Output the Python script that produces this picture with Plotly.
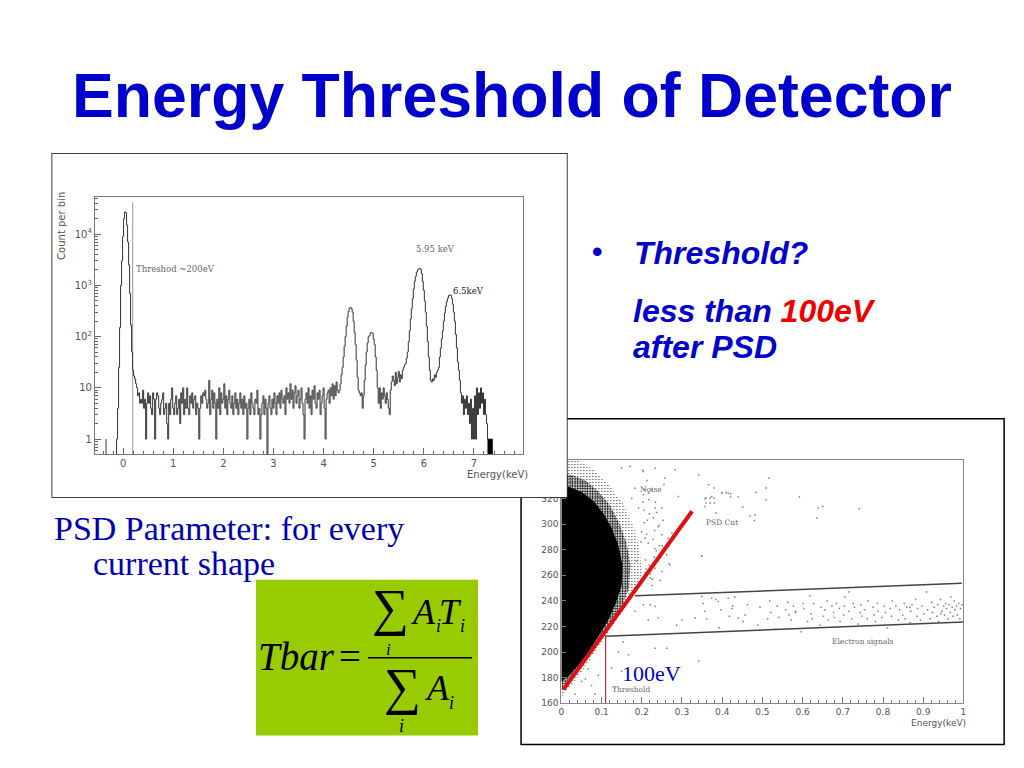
import plotly.graph_objects as go

W, H = 1024, 768

# ---------- left panel: spectrum (counts per 0.02 keV bin) ----------
BIN = 0.02
FLOOR = 0.4   # empty bin, falls below the axis
PEAK0_START = -0.16
PEAK0 = [FLOOR, FLOOR, 1, 4, 25, 150, 1000, 3000, 9000, 20000, 27000, 26000, 15000, 7000, 2500, 700,
         170, 50, 22, 17, 15, 12, 10]
NOISE_START = 0.30
NOISE = [7,8,5,6,5,9,4,6,1,5, 8,5,7,4,3,8,6,1,6,8, 7,4,3,5,6,8,3,4,5,2, 1,5,3,6,10,4,3,5,7,3,
         4,6,2,8,5,10,3,6,4,10, 4,3,7,5,8,4,6,7,3,5, 4,1,4,7,5,8,7,9,6,4, 5,14,3,6,9,4,8,5,1,6,
         4,10,3,8,5,6,12,4,7,3, 6,9,5,4,7,3,5,8,4,6, 3,5,8,4,6,3,7,4,5,1, 4,6,3,8,5,4,3,6,5,9,
         3,4,1,3,5,7,3,6,4,FLOOR, 5,7,4,3,6,4,8,5,3,7, 5,8,4,9,6,5,7,3,10,6, 8,5,12,6,9,4,8,11,5,7,
         9,4,6,10,5,3,1,6,8,5, 10,4,7,3,9,6,11,5,4,8, 6,9,3,5,7,10,4,1,6,8, 9,5,10,7,12,6,11,7,13,9]
PEAKS_START = 4.30
PEAKS = [8,9,12,18,25,40,65,100,160,240,310,360,370,350,300,200,120,70,35,16,9,8,7,8,4,7,14,28,50,75,
         100,105,120,120,115,90,70,40,22,10,5,10,4,8,6,10,7,5,8,6,4,3,9,13,17,14,11,20,12,16,
         21,13,18,15,22,25,28,30,38,50,80,130,220,350,550,850,1200,1500,1800,2000,2100,2150,2050,1700,1200,
         800,500,300,160,80,40,22,14,13,15,14,18,16,20,22,25,40,60,90,130,200,290,390,480,560,
         630,650,640,560,430,300,200,110,60,32,22,14,8]
TAIL_START = 6.76
TAIL = [5,7,3,6,4,7,3,5,2,6,1,4,1,7,1,10,3,8,4,10,5,8,3,6,3,2,1,1,1,1,1,FLOOR]
STRAY_X, STRAY_Y = [-0.34, -0.34], [0.4, 1]
CUT_X, CUT_Y = [0.19, 0.19], [0.4, 42000]
LAST_X, LAST_Y = [7.32], [1]

LEFT_YTICKS = [1, 10, 100, 1000, 10000]
LEFT_YLABELS = ["1", "10", "10<sup>2</sup>", "10<sup>3</sup>", "10<sup>4</sup>"]
LEFT_YMINOR = [0.6, 0.7, 0.8, 0.9] + [m * d for d in LEFT_YTICKS for m in (2, 3, 4, 5, 6, 7, 8, 9)]

# ---------- right panel: PSD scatter ----------
CORE_X = [0, 0.02, 0.05, 0.08, 0.105, 0.125, 0.142, 0.152, 0.15, 0.135, 0.115, 0.09, 0.065, 0.04, 0.02, 0]
CORE_Y = [330, 329, 325, 318, 308, 297, 283, 268, 252, 238, 224, 211, 199, 189, 182, 177]
MID_X = [0, 0.03, 0.06, 0.09, 0.12, 0.145, 0.162, 0.172, 0.168, 0.15, 0.13, 0.105, 0.08, 0.05, 0.025, 0]
MID_Y = [340, 338, 334, 326, 315, 300, 285, 268, 250, 235, 224, 212, 202, 189, 178, 170]
OUT_X = [0, 0.04, 0.08, 0.12, 0.155, 0.18, 0.195, 0.2, 0.19, 0.17, 0.14, 0.11, 0.08, 0.05, 0.02, 0]
OUT_Y = [350, 350, 343, 330, 315, 298, 280, 262, 250, 240, 226, 212, 198, 184, 172, 165]

SPARSE_X = [.366,.380,.399,.410,.421,.421,.440,.451,.484,.509,.517,.509,.592,.639,.650,.635,.741,.469,.482,.480,
            .360,.370,.380,.360,.370,.380,.357,.385,.349,
            .15,.171,.204,.233,.283,.341,.183,.175,.204,.233,.25,.192,.291,.357,.374,.399,.415,
            .2,.208,.183,.187,.25,.266,.233,.25,.27,.233,.221,.2,.349,.349,.204,.233,.221,.183,.216,.241,
            .287,.3,.333,.374,.39,.415,.357,.424,.44,.154,.142,.167,.233,.262,.341,.092,.125,.15,.05,.084,
            .034,.067,.133,.06,.075,
            .213,.224,.218,.206,.229,.241,.212,.198,.236,.247,.219,.208,.226,.255,.203,.214,.232,.244,.209,.222,
            .258,.217,.237,.206,.228,.262,.211,.243,.225,.251,.207,.234,.268,.219,.246,.202,.231,.275,.216,.253,
            .353,.361,.384,.392,.397,.418,.426,.431,.452,.457,.463,.489,.494,.513,.518,.521,.534,.537,.541,.558,
            .563,.566,.571,.577,.583,.596,.601,.603,.612,.618,.621,.624,.627,.643,.646,.652,.655,.661,.664,.673,
            .677,.679,.684,.691,.693,.702,.704,.706,.715,.722,.726,.729,.738,.743,.745,.747,.754,.761,.763,.775,
            .778,.781,.786,.788,.797,.803,.806,.811,.818,.821,.823,.832,.838,.841,.849,.853,.855,.859,.867,.869,
            .872,.881,.884,.886,.893,.897,.902,.908,.911,.917,.921,.923,.927,.934,.936,.938,.943,.946,.951,.953,
            .956,.958,.961,.964,.967,.969,.972,.974,.977,.979,.983,.985,.988,.991,.993,.996,.582,.715,.867,.944]
SPARSE_Y = [330.7,328.1,324.7,324.7,323.7,321.1,321.1,313.3,324.7,328.1,335.9,319,321.1,312.5,313.8,304.7,312,306.5,307.3,302.8,
            320.3,320.3,320.3,316.4,316.4,316.4,313.8,308.6,275.3,
            343.7,345,341,343.7,342.4,338.5,328,320,323,312.5,312.5,312.5,321.6,320,321.6,324,324,
            294,289,281,271,291.6,289,281,263,268,265.6,258,255,275,243.5,237,235.7,237,232,225,226.6,
            221,225,226.6,242,239.6,242,232,234,226.6,208,200,198,203,203,192.8,182,187.6,185,177,167,
            167,187,172,179,174,
            334,327,319,311,305,298,292,286,279,274,268,262,257,331,317,303,295,283,272,261,
            336,324,309,301,288,276,265,299,252,283,327,317,269,308,256,342,274,293,285,303,
            238,226,241,219,233,228,236,243,224,229,237,221,235,226,240,231,218,236,227,233,
            239,229,225,236,231,216,238,234,224,244,230,226,238,221,235,228,233,240,225,236,
            231,227,238,234,224,229,236,243,232,226,238,235,222,231,237,228,233,226,240,235,
            229,224,238,232,227,236,231,219,234,228,240,236,225,233,229,238,226,235,223,232,
            237,241,228,234,225,236,230,247,233,226,239,231,235,228,237,224,241,232,236,229,
            238,234,226,237,231,243,235,228,240,233,236,229,238,226,234,237,232,247,235,230,239,220,228,226]

CUT_LINE_X, CUT_LINE_Y = [0.005, 0.325], [170.7, 310]
UPPER_X, UPPER_Y = [0.183, 0.996], [244, 253.7]
LOWER_X, LOWER_Y = [0.109, 1.0], [212.3, 223.5]
THRESH_X, THRESH_Y = [0.11, 0.11], [160, 212]

RIGHT_YTICKS = [160, 180, 200, 220, 240, 260, 280, 300, 320, 340]

# the photographed page comes out 0.994 times its size, 3 px in from the left
VIEW_SCALE, VIEW_LEFT = 0.994, 3


def px(x): return (x - VIEW_LEFT) / VIEW_SCALE / W
def py(y): return 1 - y / VIEW_SCALE / H


fig = go.Figure()


# right panel is drawn first so the left panel sits on top of it
def blob(xs, ys, solidity, size):
    fig.add_trace(go.Scatter(x=xs, y=ys, mode="lines", fill="toself", fillcolor="rgba(255,255,255,0)",
                             fillpattern=dict(shape=".", size=size, solidity=solidity, fgcolor="#000000",
                                              bgcolor="rgba(255,255,255,0)", fillmode="replace"),
                             line=dict(width=0, color="#000000"), xaxis="x", yaxis="y", hoverinfo="skip"))


blob(OUT_X, OUT_Y, 0.12, 3)
blob(MID_X, MID_Y, 0.45, 2.5)
fig.add_trace(go.Scatter(x=CORE_X, y=CORE_Y, mode="lines", fill="toself", fillcolor="#000000",
                         line=dict(width=0, color="#000000"), xaxis="x", yaxis="y", hoverinfo="skip"))
fig.add_trace(go.Scatter(x=SPARSE_X, y=SPARSE_Y, mode="markers", xaxis="x", yaxis="y",
                         marker=dict(size=1.5, color="#808080", symbol="square", line=dict(width=0))))
for xs, ys in ((UPPER_X, UPPER_Y), (LOWER_X, LOWER_Y)):
    fig.add_trace(go.Scatter(x=xs, y=ys, mode="lines", xaxis="x", yaxis="y",
                             line=dict(color="#444444", width=1.5)))
fig.add_trace(go.Scatter(x=THRESH_X, y=THRESH_Y, mode="lines", xaxis="x", yaxis="y",
                         line=dict(color="#b83040", width=1.2)))
fig.add_trace(go.Scatter(x=CUT_LINE_X, y=CUT_LINE_Y, mode="lines", xaxis="x", yaxis="y",
                         line=dict(color="#e01010", width=4)))

# white panel behind the spectrum
fig.add_trace(go.Scatter(x=[0, 1, 1, 0, 0], y=[0, 0, 1, 1, 0], mode="lines", fill="toself",
                         fillcolor="#ffffff", line=dict(color="#000000", width=1.5),
                         xaxis="x2", yaxis="y2", hoverinfo="skip", cliponaxis=False))


# spectrum
def centers(start, vals):
    return [round(start + i * BIN, 2) for i in range(len(vals))]


HIST_X = centers(PEAK0_START, PEAK0) + centers(NOISE_START, NOISE) + centers(PEAKS_START, PEAKS) + centers(TAIL_START, TAIL)
HIST_Y = PEAK0 + NOISE + PEAKS + TAIL
fig.add_trace(go.Scatter(x=CUT_X, y=CUT_Y, mode="lines", xaxis="x3", yaxis="y3",
                         line=dict(color="#aaaaaa", width=1.2)))
fig.add_trace(go.Scatter(x=HIST_X, y=HIST_Y, mode="lines", xaxis="x3", yaxis="y3",
                         line=dict(color="#333333", width=1, shape="hvh")))
fig.add_trace(go.Scatter(x=STRAY_X, y=STRAY_Y, mode="lines", xaxis="x3", yaxis="y3",
                         line=dict(color="#333333", width=1)))
fig.add_trace(go.Bar(x=LAST_X, y=LAST_Y, width=0.1, xaxis="x3", yaxis="y3",
                     marker=dict(color="#000000", line=dict(width=0))))

tick_font = dict(family="DejaVu Sans", size=9, color="#555555")

layout = dict(
    width=W, height=H, margin=dict(l=0, r=0, t=0, b=0), autosize=False,
    paper_bgcolor="#ffffff", plot_bgcolor="rgba(0,0,0,0)", showlegend=False, barmode="overlay",
    # right scatter
    xaxis=dict(domain=[px(561.3), px(963.3)], range=[0, 1], anchor="y", dtick=0.1, ticks="inside", ticklen=6,
               tickcolor="#777777", tickformat="~g", showgrid=False, zeroline=False, showline=True, mirror=True,
               linecolor="#888888", linewidth=1.2, tickfont=tick_font,
               minor=dict(dtick=0.02, ticks="inside", ticklen=3, tickcolor="#777777", showgrid=False)),
    yaxis=dict(domain=[py(703.7), py(460.3)], range=[160, 350], anchor="x", tickvals=RIGHT_YTICKS, ticks="inside",
               ticklen=5, tickcolor="#777777", showgrid=False, zeroline=False, showline=True, mirror=True,
               linecolor="#888888", linewidth=1.2, tickfont=tick_font),
    # white frame of the spectrum
    xaxis2=dict(domain=[px(51.5), px(567.5)], range=[0, 1], anchor="y2", visible=False),
    yaxis2=dict(domain=[py(498), py(153)], range=[0, 1], anchor="x2", visible=False),
    # spectrum
    xaxis3=dict(domain=[px(95), px(523)], range=[-0.56, 7.98], anchor="y3", dtick=1, ticks="inside", ticklen=6,
                tickcolor="#666666", showgrid=False, zeroline=False, showline=True, mirror=True,
                linecolor="#777777", linewidth=1.2, tickfont=dict(family="DejaVu Sans", size=10, color="#555555"),
                minor=dict(dtick=0.2, ticks="inside", ticklen=3, tickcolor="#666666", showgrid=False)),
    yaxis3=dict(domain=[py(454.3), py(197.3)], type="log", range=[-0.292, 4.72], anchor="x3",
                tickmode="array", tickvals=LEFT_YTICKS, ticktext=LEFT_YLABELS, ticks="inside", ticklen=6,
                tickcolor="#666666", showgrid=False, zeroline=False, showline=True, mirror=True,
                linecolor="#777777", linewidth=1.2, tickfont=dict(family="DejaVu Sans", size=10, color="#555555"),
                minor=dict(tickmode="array", tickvals=LEFT_YMINOR, ticks="inside", ticklen=3,
                           tickcolor="#666666", showgrid=False)),
)

BLUE = "#0000cc"
notes = []


def note(text, x, y, size, color, family="Liberation Sans", xanchor="center", angle=0):
    notes.append(dict(text=text, x=px(x), y=py(y), xref="paper", yref="paper", showarrow=False,
                      xanchor=xanchor, yanchor="middle", textangle=angle,
                      font=dict(family=family, size=size, color=color)))


note("<b>Energy Threshold of Detector</b>", 512, 95, 62.6, BLUE)
note("<b>•</b>", 597, 252, 30, BLUE)
note("<b><i>Threshold?</i></b>", 632, 253, 32, BLUE, xanchor="left")
note('<b><i>less than <span style="color:#ee0000">100eV</span></i></b>', 631, 311, 32, BLUE, xanchor="left")
note("<b><i>after PSD</i></b>", 631, 347, 32, BLUE, xanchor="left")
note("PSD Parameter: for every", 52, 529, 34, "#0000b0", "Liberation Serif", "left")
note("current shape", 91, 564, 34, "#0000b0", "Liberation Serif", "left")

SER = "Liberation Serif"
note("Threshod ~200eV", 175, 269, 8.5, "#666666", "DejaVu Serif")
note("5.95 keV", 435, 249, 8.5, "#666666", "DejaVu Serif")
note("6.5keV", 468, 291, 8.5, "#222222", "DejaVu Serif")
note("Energy(keV)", 497, 475, 10, "#555555", "DejaVu Sans")
note("Count per bin", 62, 226, 10, "#555555", "DejaVu Sans", angle=-90)
note("Noise", 651, 490, 7.5, "#666666", "DejaVu Serif")
note("PSD Cut", 722, 523, 7.5, "#666666", "DejaVu Serif")
note("Electron signals", 863, 642, 7.5, "#666666", "DejaVu Serif")
note("Threshold", 631, 690, 7.5, "#666666", "DejaVu Serif")
note("Energy(keV)", 938, 723, 9, "#555555", "DejaVu Sans")
note("100eV", 651, 674, 22, "#0000cc", SER)

# formula
note("<i>Tbar</i>", 296, 657, 39, "#000000", SER)
note("=", 350, 657, 39, "#000000", SER)
note("∑", 390, 608, 52, "#000000", SER)
note("<i>A</i>", 423, 612, 36, "#000000", SER)
note("<i>i</i>", 438, 626, 18, "#000000", SER)
note("<i>T</i>", 450, 612, 36, "#000000", SER)
note("<i>i</i>", 462, 626, 18, "#000000", SER)
note("<i>i</i>", 388, 650, 17, "#000000", SER)
note("∑", 402, 687, 52, "#000000", SER)
note("<i>A</i>", 437, 688, 36, "#000000", SER)
note("<i>i</i>", 451, 703, 18, "#000000", SER)
note("<i>i</i>", 401, 726, 18, "#000000", SER)

layout["annotations"] = notes
layout["shapes"] = [
    dict(type="rect", xref="paper", yref="paper", layer="below", x0=px(521), x1=px(1004), y0=py(745), y1=py(419),
         fillcolor="#ffffff", line=dict(color="#000000", width=1.5)),
    dict(type="rect", xref="paper", yref="paper", layer="above", x0=px(256), x1=px(478), y0=py(736), y1=py(580),
         fillcolor="#99cc00", line=dict(width=0)),
    dict(type="line", xref="paper", yref="paper", layer="above", x0=px(368), x1=px(472), y0=py(658), y1=py(658),
         line=dict(color="#000000", width=1.5)),
]
fig.update_layout(**layout)
fig.write_html("out.html", config={"displayModeBar": False},
               post_script="document.body.style.margin='0';")
